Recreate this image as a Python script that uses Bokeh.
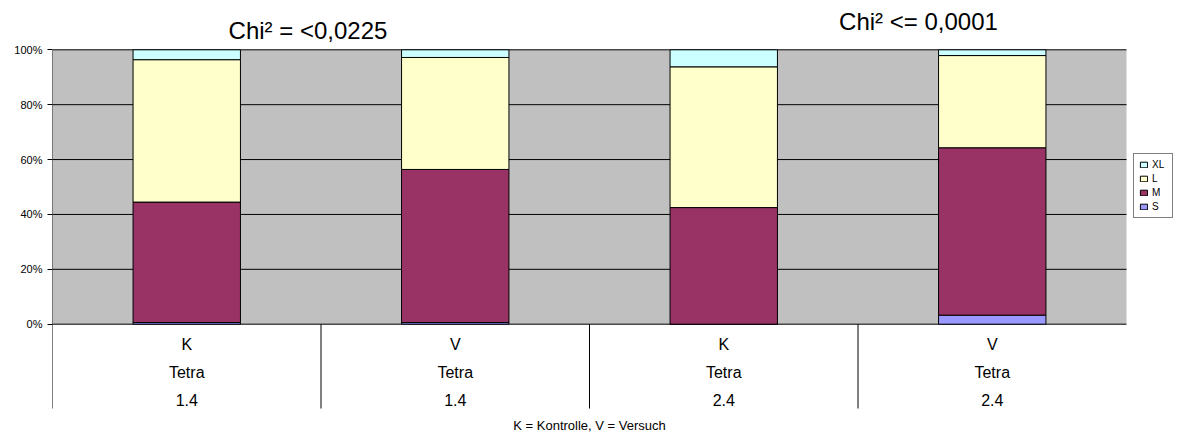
from bokeh.plotting import figure
from bokeh.models import ColumnDataSource, Range1d, FixedTicker, Legend, LegendItem
from bokeh.core.properties import value
from bokeh.embed import file_html
from bokeh.resources import INLINE

# ---- data ----
groups = ["K", "V", "K", "V"]
substance = ["Tetra", "Tetra", "Tetra", "Tetra"]
dates = ["1.4", "1.4", "2.4", "2.4"]
sizes = ["S", "M", "L", "XL"]
S = [0.6, 0.6, 0.0, 3.3]
M = [43.9, 55.8, 42.5, 61.0]
L = [51.9, 40.8, 51.3, 33.6]
XL = [3.6, 2.8, 6.2, 2.1]
colors = ["#9999FF", "#993366", "#FFFFCC", "#CCFFFF"]
titles = ["Chi² = <0,0225", "Chi² <= 0,0001"]
footnote = "K = Kontrolle, V = Versuch"
y_ticks = [0, 20, 40, 60, 80, 100]
y_labels = ["0%", "20%", "40%", "60%", "80%", "100%"]

# ---- layout constants (pixels in window) ----
W, H = 1179, 435
LEFT = 52
X0_PX = 52.0        # window x of category 0 edge
Y0_PX = 323.7       # window y of 0%
PX_X = 268.5        # pixels per category
PX_Y = 2.744        # pixels per percent


def dx(px):
    return (px - X0_PX) / PX_X


def dy(py):
    return (Y0_PX - py) / PX_Y


FONT = value("Liberation Sans")
n = len(groups)
xs = [i + 0.5 for i in range(n)]

p = figure(width=W, height=H, output_backend="svg", toolbar_location=None, tools="",
           x_range=Range1d(0, dx(W)), y_range=Range1d(dy(H), dy(0)))
p.min_border = 0
p.min_border_left = LEFT
p.outline_line_color = None
p.background_fill_color = "white"
p.border_fill_color = "white"
p.xaxis.visible = False
p.xgrid.visible = False
p.ygrid.visible = False

ya = p.yaxis[0]
ya.ticker = FixedTicker(ticks=y_ticks)
ya.major_label_overrides = {t: l for t, l in zip(y_ticks, y_labels)}
ya.axis_line_color = None
ya.major_tick_in = 0
ya.major_tick_out = 5
ya.major_tick_line_color = "black"
ya.minor_tick_line_color = None
ya.major_label_standoff = 5
ya.major_label_text_font = "Liberation Sans"
ya.major_label_text_font_size = "11px"
ya.major_label_text_color = "black"

# plot area background
p.quad(left=[0], right=[n], bottom=[0], top=[100], fill_color="#C0C0C0", line_color=None)
# gridlines
p.segment(x0=[0] * len(y_ticks), x1=[n] * len(y_ticks), y0=y_ticks, y1=y_ticks,
          line_color="black", line_width=1)

src = ColumnDataSource(dict(x=xs, S=S, M=M, L=L, XL=XL))
rs = p.vbar_stack(sizes, x="x", width=0.4, color=colors, line_color="black",
                  line_width=1, source=src)

# axis line and category separators
bottom = dy(408)
p.segment(x0=[0], x1=[0], y0=[bottom], y1=[100], line_color="black", line_width=1)
p.segment(x0=list(range(1, n)), x1=list(range(1, n)), y0=[0] * (n - 1), y1=[bottom] * (n - 1),
          line_color="black", line_width=1)

# category labels (three rows)
for row, labels in zip([344, 371.5, 399], [groups, substance, dates]):
    p.text(x=xs, y=[dy(row)] * n, text=labels, text_font=FONT, text_font_size="16px",
           text_align="center", text_baseline="middle", text_color="black")

# titles
p.text(x=[dx(307.5), dx(918)], y=[dy(30), dy(21)], text=titles, text_font=FONT,
       text_font_size="24px", text_align="center", text_baseline="middle", text_color="black")
# footnote
p.text(x=[n / 2], y=[dy(425)], text=[footnote], text_font=FONT, text_font_size="13px",
       text_align="center", text_baseline="middle", text_color="black")

items = [LegendItem(label=lab, renderers=[r]) for lab, r in zip(sizes, rs)][::-1]
legend = Legend(items=items, location=(1133 - X0_PX, H - 218))
legend.padding = 5
legend.margin = 0
legend.spacing = 3
legend.glyph_width = 9
legend.glyph_height = 7
legend.label_height = 11
legend.label_width = 15
legend.label_standoff = 4
legend.label_text_font = "Liberation Sans"
legend.label_text_font_size = "10px"
legend.label_text_color = "black"
legend.border_line_color = "black"
legend.border_line_width = 1
legend.background_fill_color = "white"
legend.background_fill_alpha = 1
p.add_layout(legend)

open("out.html", "w").write(file_html(p, INLINE))
